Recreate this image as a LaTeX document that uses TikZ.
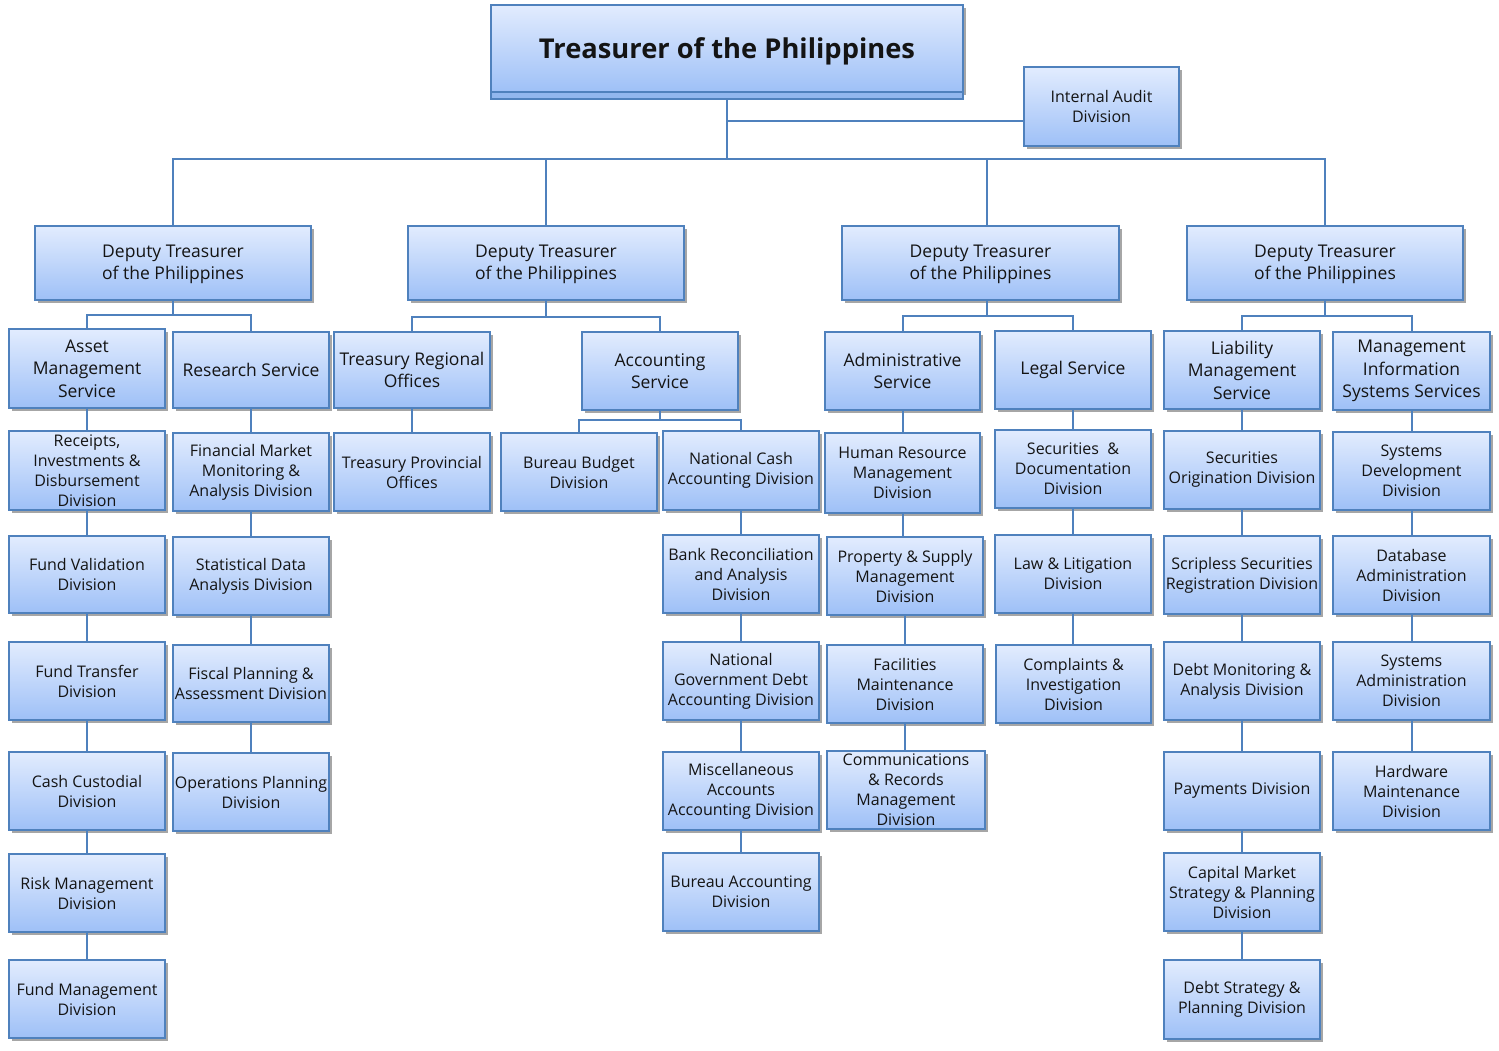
\documentclass[tikz,border=0pt]{standalone}
\usepackage{fontspec}
\setmainfont{Open Sans}
\usetikzlibrary{shadows}
\definecolor{bord}{RGB}{79,129,189}
\definecolor{ftop}{RGB}{226,236,254}
\definecolor{fbot}{RGB}{158,192,247}
\definecolor{txt}{RGB}{20,20,20}
\newcommand\divf{\fontsize{16}{20}\selectfont}
\newcommand\svcf{\fontsize{17.5}{22.5}\selectfont}
\newcommand\bx[7][]{\node[box,minimum width={#4-#2},minimum height={#5-#3},#1] (#6) at ({(#2+#4)/2},{(#3+#5)/2}) {#7};}
\tikzset{
  box/.style={draw=bord, line width=2.2pt, top color=ftop, bottom color=fbot, text=txt,
    align=center, inner sep=0pt, font=\divf,
    drop shadow={shadow xshift=2.5pt, shadow yshift=-3pt, opacity=0.35, fill=black}},
  svc/.style={font=\svcf},
  dep/.style={font=\svcf, text depth=2pt},
  conn/.style={draw=bord, line width=2pt},
}
\begin{document}
\begin{tikzpicture}[x=1pt,y=-1pt]
\useasboundingbox[fill=white] (0,0) rectangle (1499,1050);
% top
\bx{491}{5}{963}{92}{T}{}
\node[font=\bfseries\fontsize{27.3}{32}\selectfont, text=txt] (Tt) at ([yshift=-2.5pt]T.center) {Treasurer of the Philippines};
\node[draw=bord, line width=2pt, fill=fbot!85!bord, minimum width=472, minimum height=7, inner sep=0pt] (Tb) at (727,95.5) {};
\bx{1024}{67}{1179}{146}{IA}{Internal Audit\\Division}
% deputies
\bx[dep]{35}{226}{311}{300}{D1}{Deputy Treasurer\\of the Philippines}
\bx[dep]{408}{226}{684}{300}{D2}{Deputy Treasurer\\of the Philippines}
\bx[dep]{842}{226}{1119}{300}{D3}{Deputy Treasurer\\of the Philippines}
\bx[dep]{1187}{226}{1463}{300}{D4}{Deputy Treasurer\\of the Philippines}
% services
\bx[svc]{9}{329}{165}{408}{AMS}{Asset\\Management\\Service}
\bx[svc]{173}{332}{329}{408}{RS}{Research Service}
\bx[svc]{334}{332}{490}{408}{TRO}{Treasury Regional\\Offices}
\bx[svc]{582}{332}{738}{410}{AcS}{Accounting\\Service}
\bx[svc]{825}{332}{980}{410}{AdS}{Administrative\\Service}
\bx[svc]{995}{331}{1151}{409}{LS}{Legal Service}
\bx[svc]{1164}{331}{1320}{409}{LMS}{Liability\\Management\\Service}
\bx[svc]{1333}{332}{1490}{410}{MIS}{Management\\Information\\Systems Services}
% asset column
\bx{9}{431}{165}{510}{a1}{Receipts,\\Investments \&\\Disbursement\\Division}
\bx{9}{536}{165}{613}{a2}{Fund Validation\\Division}
\bx{9}{642}{165}{720}{a3}{Fund Transfer\\Division}
\bx{9}{752}{165}{830}{a4}{Cash Custodial\\Division}
\bx{9}{854}{165}{932}{a5}{Risk Management\\Division}
\bx{9}{960}{165}{1038}{a6}{Fund Management\\Division}
% research column
\bx{173}{433}{329}{511}{r1}{Financial Market\\Monitoring \&\\Analysis Division}
\bx{173}{537}{329}{615}{r2}{Statistical Data\\Analysis Division}
\bx{173}{645}{329}{722}{r3}{Fiscal Planning \&\\Assessment Division}
\bx{173}{753}{329}{831}{r4}{Operations Planning\\Division}
% regional
\bx{334}{433}{490}{511}{t1}{Treasury Provincial\\Offices}
% accounting
\bx{501}{433}{657}{511}{bb}{Bureau Budget\\Division}
\bx{663}{431}{819}{510}{n1}{National Cash\\Accounting Division}
\bx{663}{535}{819}{613}{n2}{Bank Reconciliation\\and Analysis\\Division}
\bx{663}{642}{819}{720}{n3}{National\\Government Debt\\Accounting Division}
\bx{663}{752}{819}{830}{n4}{Miscellaneous\\Accounts\\Accounting Division}
\bx{663}{853}{819}{931}{n5}{Bureau Accounting\\Division}
% administrative
\bx{825}{433}{980}{513}{h1}{Human Resource\\Management\\Division}
\bx{827}{537}{983}{615}{h2}{Property \& Supply\\Management\\Division}
\bx{827}{645}{983}{723}{h3}{Facilities\\Maintenance\\Division}
\bx{827}{751}{985}{829}{h4}{Communications\\\& Records\\Management\\Division}
% legal
\bx{995}{430}{1151}{508}{l1}{Securities~~\&\\Documentation\\Division}
\bx{995}{535}{1151}{613}{l2}{Law \& Litigation\\Division}
\bx{996}{645}{1151}{723}{l3}{Complaints \&\\Investigation\\Division}
% liability
\bx{1164}{431}{1320}{509}{s1}{Securities\\Origination Division}
\bx{1164}{536}{1320}{614}{s2}{Scripless Securities\\Registration Division}
\bx{1164}{642}{1320}{720}{s3}{Debt Monitoring \&\\Analysis Division}
\bx{1164}{752}{1320}{830}{s4}{Payments Division}
\bx{1164}{853}{1320}{931}{s5}{Capital Market\\Strategy \& Planning\\Division}
\bx{1164}{960}{1320}{1039}{s6}{Debt Strategy \&\\Planning Division}
% MIS
\bx{1333}{432}{1490}{510}{m1}{Systems\\Development\\Division}
\bx{1333}{536}{1490}{614}{m2}{Database\\Administration\\Division}
\bx{1333}{642}{1490}{720}{m3}{Systems\\Administration\\Division}
\bx{1333}{752}{1490}{830}{m4}{Hardware\\Maintenance\\Division}
% connectors
\foreach \d in {D1,D2,D4} \draw[conn] (Tb.south) -- ++(0,59) -| (\d.north);
\draw[conn] (Tb.south) -- ++(0,59) -| ([xshift=6pt]D3.north);
\coordinate (iaL) at ([yshift=-14.5pt]IA.west);
\draw[conn] (iaL) -- (iaL -| Tb.south);
\foreach \c in {AMS,RS} \draw[conn] (D1.south) -- ++(0,14) -| (\c.north);
\foreach \c in {TRO,AcS} \draw[conn] (D2.south) -- ++(0,16) -| (\c.north);
\foreach \c in {AdS,LS} \draw[conn] ([xshift=6pt]D3.south) -- ++(0,15) -| (\c.north);
\foreach \c in {LMS,MIS} \draw[conn] (D4.south) -- ++(0,15) -| (\c.north);
\foreach \c in {bb,n1} \draw[conn] (AcS.south) -- ++(0,9) -| (\c.north);
\foreach \a/\b in {AMS/a1,a1/a2,a2/a3,a3/a4,a4/a5,a5/a6,RS/r1,r1/r2,r2/r3,r3/r4,TRO/t1,
  n1/n2,n2/n3,n3/n4,n4/n5,AdS/h1,h1/h2,h2/h3,h3/h4,LS/l1,l1/l2,l2/l3,
  LMS/s1,s1/s2,s2/s3,s3/s4,s4/s5,s5/s6,MIS/m1,m1/m2,m2/m3,m3/m4}
  \draw[conn] (\a.south) -- (\a.south |- \b.north);
\end{tikzpicture}
\end{document}
